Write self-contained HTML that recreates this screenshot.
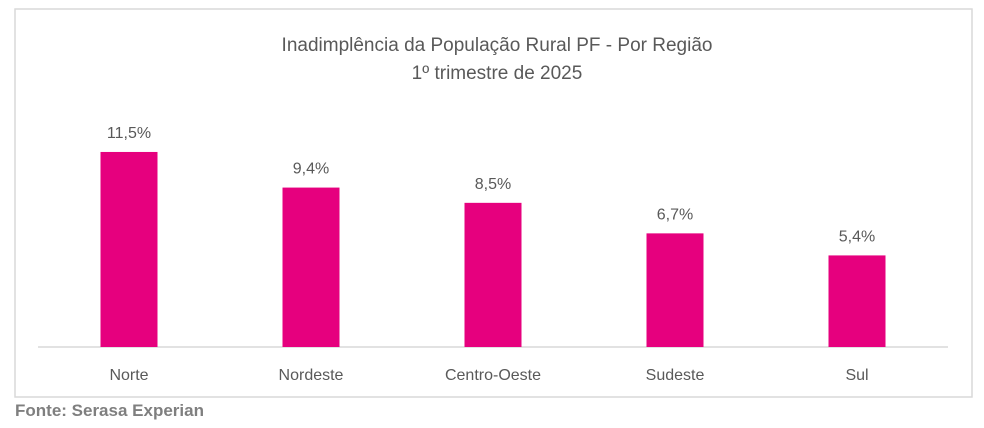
<!DOCTYPE html>
<html><head><meta charset="utf-8"><style>
body{margin:0;background:#fff;width:984px;height:428px;overflow:hidden;font-family:"Liberation Sans",sans-serif}
svg{position:absolute;left:0;top:0}
</style></head><body>
<svg width="984" height="428">
<rect x="15" y="9" width="957" height="388" fill="#fff" stroke="#d9d9d9" stroke-width="1.5"/>
<text x="497" y="51" text-anchor="middle" font-size="19" fill="#595959">Inadimplência da População Rural PF - Por Região</text>
<text x="497" y="79" text-anchor="middle" font-size="19" fill="#595959">1º trimestre de 2025</text>
<line x1="38" y1="347" x2="948" y2="347" stroke="#d9d9d9" stroke-width="1.5"/>
<g id="bars"></g>
<text x="15" y="416" font-size="17" font-weight="bold" fill="#7f7f7f">Fonte: Serasa Experian</text>
</svg>
<script>
const categories=["Norte","Nordeste","Centro-Oeste","Sudeste","Sul"];
const values=[11.5,9.4,8.5,6.7,5.4];
const labels=["11,5%","9,4%","8,5%","6,7%","5,4%"];
const g=document.getElementById('bars');
const ns="http://www.w3.org/2000/svg";
const y=v=>347-v*16.96;
const x=i=>129+i*182;
categories.forEach((c,i)=>{
  const r=document.createElementNS(ns,'rect');
  r.setAttribute('x',x(i)-28.5);r.setAttribute('y',y(values[i]));
  r.setAttribute('width',57);r.setAttribute('height',347-y(values[i]));
  r.setAttribute('fill','#e6007e');
  
  
  g.appendChild(r);
  const t=document.createElementNS(ns,'text');
  t.setAttribute('x',x(i));t.setAttribute('y',y(values[i])-14);
  t.setAttribute('text-anchor','middle');t.setAttribute('font-size','16');t.setAttribute('fill','#595959');
  t.textContent=labels[i];
  
  
  g.appendChild(t);
  const l=document.createElementNS(ns,'text');
  l.setAttribute('x',x(i));l.setAttribute('y',380);
  l.setAttribute('text-anchor','middle');l.setAttribute('font-size','16');l.setAttribute('fill','#595959');
  l.textContent=c;
  
  
  g.appendChild(l);
});
</script>
</body></html>
